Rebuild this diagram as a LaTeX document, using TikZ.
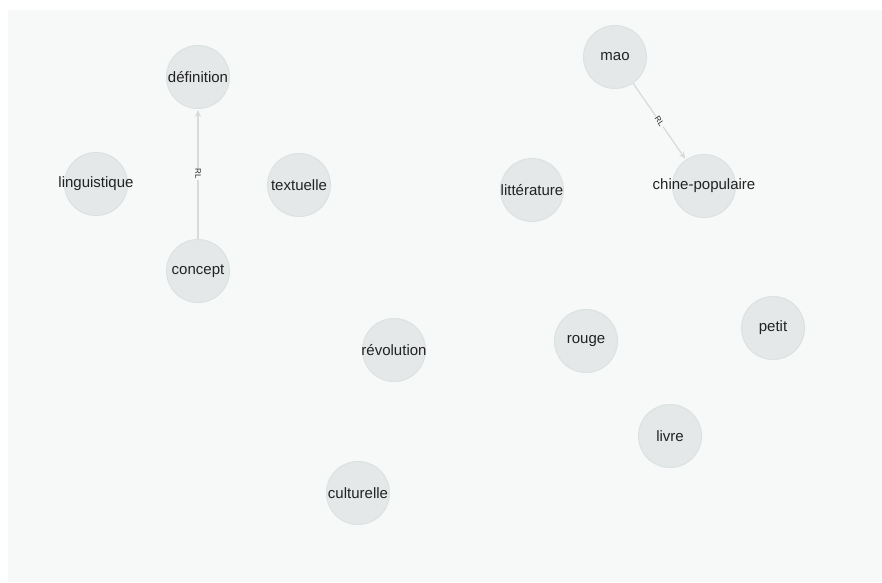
\documentclass[tikz,border=0pt]{standalone}
\usepackage{fontspec}
\setmainfont{Liberation Sans}
\usetikzlibrary{arrows.meta}
\definecolor{bgc}{HTML}{F7F9F9}
\definecolor{nodefill}{HTML}{E4E8E9}
\definecolor{nodeline}{HTML}{DCE1E2}
\definecolor{edgec}{HTML}{D6DADB}
\definecolor{txt}{HTML}{222222}
\tikzset{
  term/.style={circle, fill=nodefill, draw=nodeline, line width=1pt, minimum size=63pt, inner sep=0pt,
    label={[text=txt, font=\fontsize{15}{17}\selectfont, inner sep=0pt]center:#1}},
  rel/.style={draw=edgec, line width=1.2pt, -{Stealth[length=7pt,width=6pt]}, shorten >=1pt},
  rellabel/.style={font=\fontsize{8}{9}\selectfont, text=txt, sloped, fill=bgc, inner sep=1pt}
}
\begin{document}
\begin{tikzpicture}[x=1pt,y=-1pt]
\fill[white] (0,0) rectangle (882,582);
\fill[bgc] (8,10) rectangle (882,582);
\useasboundingbox (0,0) rectangle (882,582);
\node[term={définition}] (definition) at (198,77) {};
\node[term={linguistique}] (linguistique) at (96,184) {};
\node[term={textuelle}] (textuelle) at (299,185) {};
\node[term={concept}] (concept) at (198,271) {};
\node[term={mao}] (mao) at (615,57) {};
\node[term={littérature}] (litterature) at (532,190) {};
\node[term={chine-populaire}] (chine) at (704,186) {};
\node[term={rouge}] (rouge) at (586,341) {};
\node[term={petit}] (petit) at (773,328) {};
\node[term={révolution}] (revolution) at (394,350) {};
\node[term={livre}] (livre) at (670,436) {};
\node[term={culturelle}] (culturelle) at (358,493) {};
\draw[rel] (concept) -- node[rellabel, rotate=180] {RL} (definition);
\draw[rel] (mao) -- node[rellabel] {RL} (chine);
\end{tikzpicture}
\end{document}
